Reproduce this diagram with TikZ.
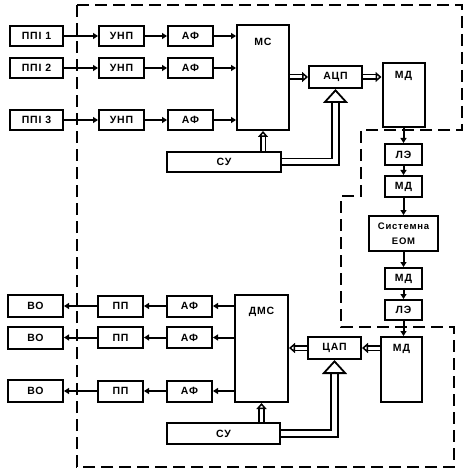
\documentclass[tikz,border=0pt]{standalone}
\usepackage{fontspec}
\setmainfont{Liberation Sans}[LetterSpace=8]
\usepackage{tikz}
\usetikzlibrary{arrows.meta, positioning}
\tikzstyle{block} = [draw, line width=2pt, inner sep=0pt, align=center]
\tikzstyle{arrow} = [line width=2pt, -{Triangle[length=5pt,width=6pt]}]
\tikzstyle{bus} = [line width=1.6pt, double, double distance=3pt, -{Triangle[open,length=6pt,width=10pt]}]
\tikzstyle{widebus} = [line width=1.8pt, double, double distance=5pt, -{Triangle[open,length=14pt,width=25pt]}]
\tikzstyle{frame} = [line width=2pt, dash pattern=on 12pt off 6pt]

\begin{document}
\begin{tikzpicture}[x=1pt, y=-1pt, font=\bfseries\fontsize{10.5}{12}\selectfont]
    \useasboundingbox (0,0) rectangle (470,470);

    % dashed frame
    \draw[frame] (77,5) -- (462,5) -- (462,130) -- (361,130) -- (361,196) -- (341,196)
        -- (341,327) -- (454,327) -- (454,467) -- (77,467) -- cycle;

    % input channels
    \foreach \i/\y in {1/36, 2/68, 3/120} {
        \node[block, minimum width=53pt, minimum height=20pt] (ppi\i) at (36.5,\y) {ППІ \i};
        \node[block, minimum width=45pt, minimum height=20pt] (unp\i) at (121.5,\y) {УНП};
        \node[block, minimum width=45pt, minimum height=20pt] (afi\i) at (190.5,\y) {АФ};
    }
    \node[block, minimum width=52pt, minimum height=105pt,
        label={[anchor=center, yshift=-18pt]north:МС}] (ms) at (263,77.5) {};
    \foreach \i in {1,2,3} {
        \draw[arrow] (ppi\i) -- (unp\i);
        \draw[arrow] (unp\i) -- (afi\i);
        \draw[arrow] (afi\i) -- (afi\i -| ms.west);
    }

    % ADC and control
    \node[block, minimum width=53pt, minimum height=22pt] (acp) at (335.5,77) {АЦП};
    \node[block, minimum width=42pt, minimum height=64pt,
        label={[anchor=center, yshift=-14pt]north:МД}] (md1) at (403.5,95) {};
    \node[block, minimum width=114pt, minimum height=20pt] (su1) at (224,162) {СУ};
    \draw[bus] (acp.west -| ms.east) -- (acp.west);
    \draw[bus] (acp.east) -- (acp.east -| md1.west);
    \draw[bus] (su1.north -| ms.south) -- (ms.south);
    \draw[widebus] (su1.east) -| (acp.south);

    % transfer chain
    \node[block, minimum width=37pt, minimum height=21pt] (le1) at (403.5,154.5) {ЛЭ};
    \node[block, minimum width=37pt, minimum height=21pt] (md2) at (403.5,186.5) {МД};
    \node[block, minimum width=69pt, minimum height=35pt, font=\bfseries\fontsize{9.5}{15}\selectfont] (eom) at (403.5,233.5) {Системна\\ЕОМ};
    \node[block, minimum width=37pt, minimum height=21pt] (md3) at (403.5,278.5) {МД};
    \node[block, minimum width=37pt, minimum height=20pt] (le2) at (403.5,310) {ЛЭ};
    \node[block, minimum width=41pt, minimum height=65pt,
        label={[anchor=center, yshift=-13pt]north:МД}] (md4) at (401.5,369.5) {};
    \draw[arrow] (md1) -- (le1);
    \draw[arrow] (le1) -- (md2);
    \draw[arrow] (md2) -- (eom);
    \draw[arrow] (eom) -- (md3);
    \draw[arrow] (md3) -- (le2);
    \draw[arrow] (le2.south) -- (le2.south |- md4.north);

    % DAC and control
    \node[block, minimum width=53pt, minimum height=22pt] (cap) at (334.5,348) {ЦАП};
    \node[block, minimum width=53pt, minimum height=107pt,
        label={[anchor=center, yshift=-18pt]north:ДМС}] (dms) at (261.5,348.5) {};
    \node[block, minimum width=113pt, minimum height=21pt] (su2) at (223.5,433.5) {СУ};
    \draw[bus] (cap.east -| md4.west) -- (cap.east);
    \draw[bus] (cap.west) -- (cap.west -| dms.east);
    \draw[bus] (su2.north -| dms.south) -- (dms.south);
    \draw[widebus] (su2.east) -| (cap.south);

    % output channels
    \foreach \i/\y in {1/306, 2/337.5, 3/391} {
        \node[block, minimum width=55pt, minimum height=22pt] (vo\i) at (35.5,\y) {ВО};
        \node[block, minimum width=45pt, minimum height=21pt] (pp\i) at (120.5,\y) {ПП};
        \node[block, minimum width=45pt, minimum height=21pt] (afo\i) at (189.5,\y) {АФ};
        \draw[arrow] (afo\i -| dms.west) -- (afo\i);
        \draw[arrow] (afo\i) -- (pp\i);
        \draw[arrow] (pp\i) -- (vo\i);
    }
\end{tikzpicture}
\end{document}
